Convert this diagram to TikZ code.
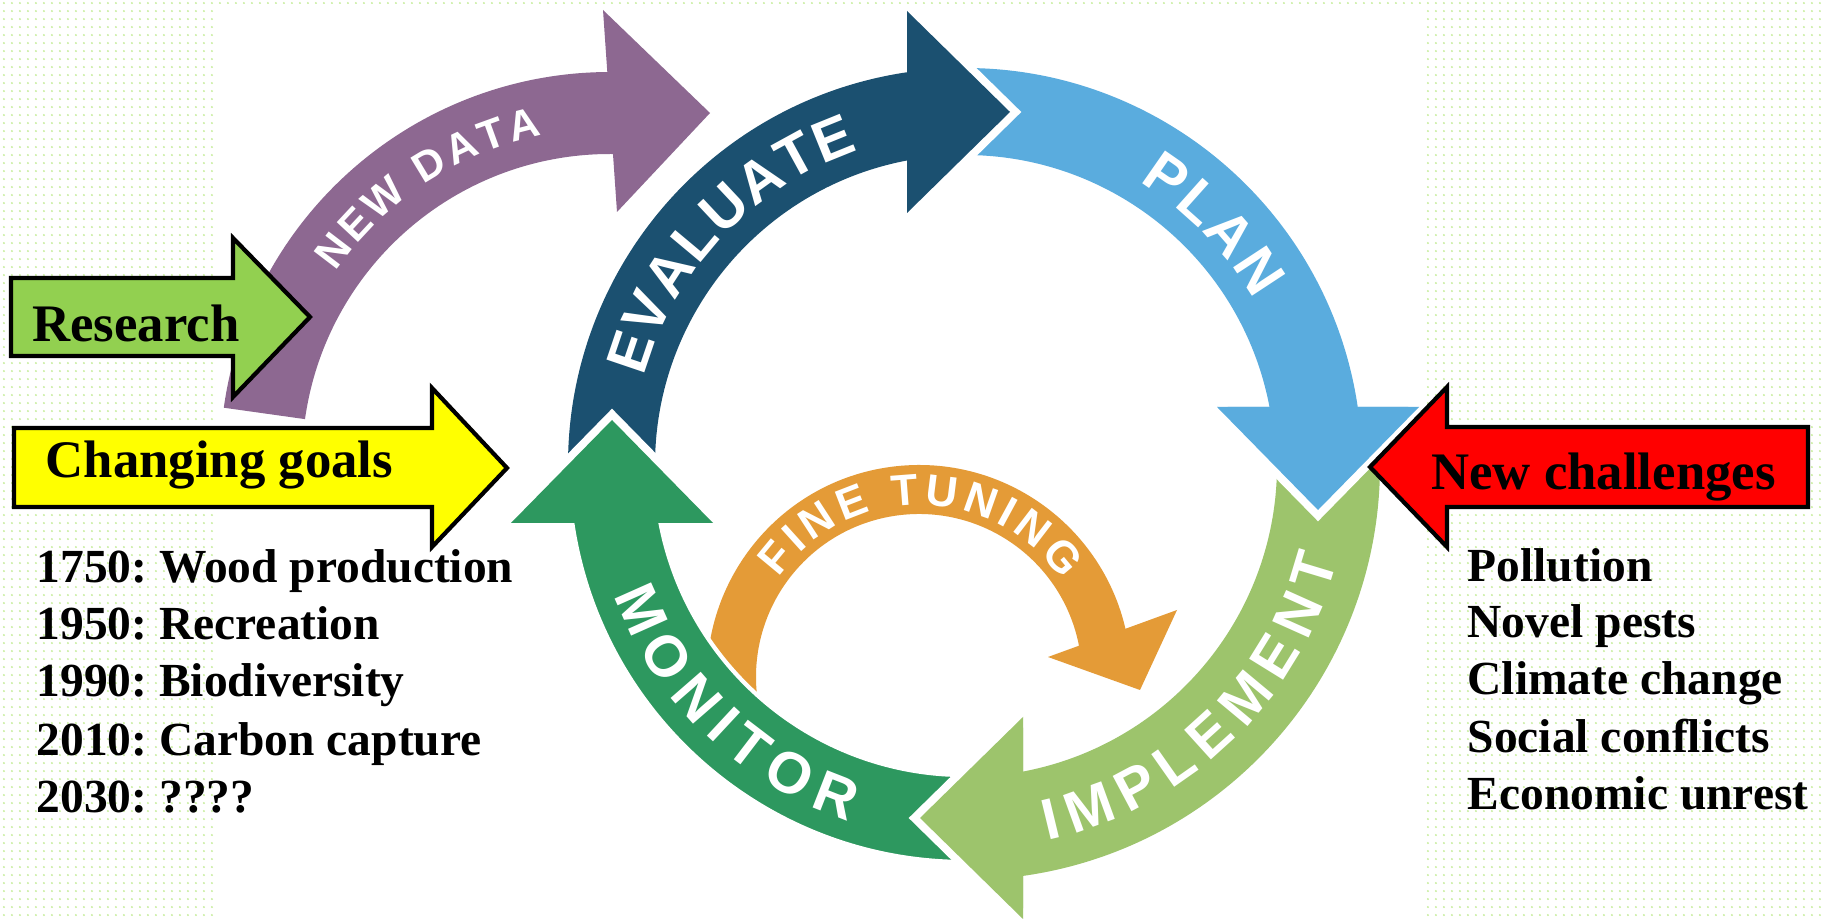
\documentclass[tikz,border=0pt]{standalone}
\usepackage{fontspec}
\setmainfont{Liberation Serif}
\newfontfamily\labelfont{Liberation Sans}
\frenchspacing
\usetikzlibrary{decorations.text, patterns.meta}

\definecolor{dotgreen}{RGB}{196,236,150}
\definecolor{researchgreen}{RGB}{146,208,80}
\definecolor{goalyellow}{RGB}{255,255,0}
\definecolor{challengered}{RGB}{255,0,0}
\definecolor{newdatapurple}{RGB}{141,104,145}
\definecolor{evaluateblue}{RGB}{27,80,112}
\definecolor{planblue}{RGB}{90,172,222}
\definecolor{implementgreen}{RGB}{157,196,108}
\definecolor{monitorgreen}{RGB}{45,152,95}
\definecolor{tuningorange}{RGB}{228,155,55}

% faint dotted slide background
\tikzdeclarepattern{
  name=bgdots,
  type=colored,
  bottom left={(0pt,0pt)},
  top right={(2.27pt,2.27pt)},
  tile size={(2.27pt,2.27pt)},
  code={\fill[dotgreen] (1.13pt,1.13pt) circle[radius=0.3pt];}
}

\tikzset{
  sidearrow/.style={draw=black, line width=1.2pt, line join=miter},
  sidelabel/.style={font=\fontsize{15}{18}\selectfont\bfseries, inner sep=0pt, anchor=base},
  listitem/.style={font=\fontsize{13.5}{16}\selectfont\bfseries, inner sep=0pt, anchor=base west},
  headgap/.style={draw=white, line width=4.5pt, line join=miter},
  ringtext/.style={decorate, decoration={text along path, text align={fit to path}, text color=white}},
}

% body of one quarter of the cycle; drawn in the frame of the top arrow and rotated
\newcommand{\ringbody}[4]{%
  \begin{scope}[shift={(965,465)}, rotate=#1]
    \path[#4] (176.8:#3) arc[start angle=176.8, end angle=262.8, radius=#3]
      -- (260.7:#2) arc[start angle=260.7, end angle=176.8, radius=#2] -- cycle;
  \end{scope}}

% arrow head of one quarter, with a white gap cut into the following arrow
\newcommand{\ringhead}[2]{%
  \begin{scope}[shift={(965,465)}, rotate=#1]
    \filldraw[fill=#2, headgap] (-58,-454) -- (45,-353) -- (-58,-252);
    \fill[#2] (-58,-454) -- (45,-353) -- (-58,-252) -- cycle;
  \end{scope}}

\begin{document}
\begin{tikzpicture}[x=0.01cm, y=-0.01cm]
\useasboundingbox (0,0) rectangle (1821,919);
\fill[white] (0,0) rectangle (1821,919);
\fill[pattern=bgdots] (0,0) rectangle (1821,919);
\fill[white] (218,4) rectangle (1423,919);

% NEW DATA arrow
\begin{scope}[shift={(610,462)}]
  \fill[newdatapurple] (188:390) arc[start angle=188, end angle=270.7, radius=390]
    -- (270.9:308) arc[start angle=270.9, end angle=188, radius=308] -- cycle;
  \fill[newdatapurple] (-7,-452) -- (100,-349) -- (7,-250) -- cycle;
\end{scope}

% FINE TUNING arrow
\begin{scope}[shift={(919,677)}]
  \fill[tuningorange] (174:212) arc[start angle=174, end angle=352, radius=212]
    -- (352:163) arc[start angle=352, end angle=174, radius=163] -- cycle;
\end{scope}
\fill[tuningorange] (1048,657) -- (1140,690) -- (1177,610) -- cycle;

% main cycle
\ringbody{0}{310}{397}{fill=evaluateblue}
\ringbody{-90}{310}{397}{fill=planblue}
\ringbody{-180}{312}{415}{fill=implementgreen}
\ringbody{-270}{310}{397}{fill=monitorgreen, draw=white, line width=1.2pt}
\ringhead{0}{evaluateblue}
\ringhead{-90}{planblue}
\ringhead{-180}{implementgreen}
\ringhead{-270}{monitorgreen}

% curved labels
\path[ringtext, decoration={text={|\labelfont\bfseries\fontsize{16.5}{16.5}\selectfont|EVALUATE}}]
  ([shift={(965,465)}]195.4:332.5) arc[start angle=195.4, end angle=251.3, radius=332.5];
\path[ringtext, decoration={text={|\labelfont\bfseries\fontsize{16.5}{16.5}\selectfont|PLAN}}]
  ([shift={(965,465)}]301.5:332.5) arc[start angle=301.5, end angle=330.3, radius=332.5];
\path[ringtext, decoration={text={|\labelfont\bfseries\fontsize{16.5}{16.5}\selectfont|MONITOR}}]
  ([shift={(965,465)}]159.7:374.5) arc[start angle=159.7, end angle=108.1, radius=374.5];
\path[ringtext, decoration={text={|\labelfont\bfseries\fontsize{16.5}{16.5}\selectfont|IMPLEMENT}}]
  ([shift={(965,465)}]77.6:384.5) arc[start angle=77.6, end angle=14.2, radius=384.5];
\path[ringtext, decoration={text={|\labelfont\bfseries\fontsize{12}{12}\selectfont|NEW DATA}}]
  ([shift={(610,462)}]214.7:334) arc[start angle=214.7, end angle=258.2, radius=334];
\path[ringtext, decoration={text={|\labelfont\bfseries\fontsize{12.5}{12.5}\selectfont|FINE TUNING}}]
  ([shift={(919,677)}]215.2:172) arc[start angle=215.2, end angle=325.9, radius=172];

% side arrows
\draw[sidearrow, fill=researchgreen] (11,278) -- (233,278) -- (233,238) -- (310,317)
  -- (233,397) -- (233,356) -- (11,356) -- cycle;
\node[sidelabel] (research) at (136,342) {Research};

\draw[sidearrow, fill=goalyellow] (14,428) -- (432,428) -- (432,388) -- (507,468)
  -- (432,547) -- (432,507) -- (14,507) -- cycle;
\node[sidelabel] (goals) at (219.5,478) {Changing goals};

\draw[sidearrow, fill=challengered] (1808,427) -- (1447,427) -- (1447,387) -- (1370,467)
  -- (1447,547) -- (1447,507) -- (1808,507) -- cycle;
\node[sidelabel] (challenges) at (1603.5,490) {New challenges};

% goals over time
\node[listitem] (goal1) at (36,583) {1750: Wood production};
\node[listitem] (goal2) at (36,640) {1950: Recreation};
\node[listitem] (goal3) at (36,697) {1990: Biodiversity};
\node[listitem] (goal4) at (36,755) {2010: Carbon capture};
\node[listitem] (goal5) at (36,812) {2030: ????};

% challenges
\node[listitem] (chal1) at (1467,582) {Pollution};
\node[listitem] (chal2) at (1467,638) {Novel pests};
\node[listitem] (chal3) at (1467,695) {Climate change};
\node[listitem] (chal4) at (1467,752) {Social conflicts};
\node[listitem] (chal5) at (1467,810) {Economic unrest};
\end{tikzpicture}
\end{document}
